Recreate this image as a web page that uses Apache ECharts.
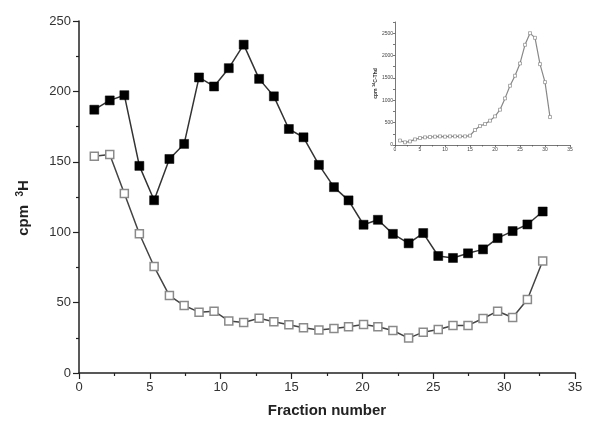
<!DOCTYPE html>
<html>
<head>
<meta charset="utf-8">
<script src="https://cdn.jsdelivr.net/npm/echarts@6/dist/echarts.min.js"></script>
<style>html,body{margin:0;padding:0;background:#fff}#c{width:609px;height:423px}</style>
</head>
<body>
<div id="c"></div>
<script>
// Main chart: fraction positions
const fractionX = [1.08,2.17,3.20,4.26,5.30,6.38,7.42,8.47,9.53,10.57,11.62,12.71,13.75,14.81,15.84,16.93,17.99,19.02,20.08,21.09,22.15,23.26,24.29,25.35,26.39,27.45,28.51,29.54,30.60,31.64,32.72];
const filledH3 = [187,193.6,197.3,147.1,122.7,152,162.7,209.9,203.5,216.5,233.2,208.9,196.5,173.3,167.4,147.8,132,122.6,105.3,108.8,98.8,92.1,99.4,83.1,81.7,85,87.8,95.8,100.8,105.5,114.7];
const openH3 = [153.9,155.2,127.5,98.9,75.6,55.0,47.9,43.2,43.9,37.0,35.9,38.9,36.4,34.2,32.1,30.5,31.6,32.8,34.5,32.8,30.2,24.8,29.0,30.9,33.8,33.8,38.7,43.9,39.4,52.2,79.5];
// Inset: 14C-Thd
const insetX = [1,2,3,4,5,6,7,8,9,10,11,12,13,14,15,16,17,18,19,20,21,22,23,24,25,26,27,28,29,30,31];
const insetC14 = [100,60,80,126,156,171,179,186,193,186,193,193,193,193,208,335,424,469,543,640,789,1042,1324,1548,1823,2240,2500,2396,1808,1406,625];
const mainYTicks = [0,50,100,150,200,250];
const mainXTicks = [0,5,10,15,20,25,30,35];

const pair = (xs, ys) => xs.map((x, i) => [x, ys[i]]);
const font = 'Liberation Sans, Arial, sans-serif';
const chart = echarts.init(document.getElementById('c'), null, {renderer: 'canvas'});
chart.setOption({
  animation: false,
  backgroundColor: '#fff',
  grid: [
    {left: 79, right: 34, top: 21, bottom: 49},
    {left: 395, right: 39, top: 22, bottom: 278}
  ],
  xAxis: [
    {
      gridIndex: 0, type: 'value', min: mainXTicks[0], max: mainXTicks[mainXTicks.length - 1], interval: 5,
      name: 'Fraction number', nameLocation: 'middle', nameGap: 30,
      nameTextStyle: {fontFamily: font, fontSize: 15, fontWeight: 'bold', color: '#222'},
      axisLine: {onZero: false, lineStyle: {color: '#222', width: 1.5}},
      axisTick: {length: 6, lineStyle: {color: '#222', width: 1.2}},
      minorTick: {show: true, splitNumber: 2, length: 3, lineStyle: {color: '#222', width: 1.2}},
      axisLabel: {fontFamily: font, fontSize: 13, color: '#333', margin: 8},
      splitLine: {show: false}
    },
    {
      gridIndex: 1, type: 'value', min: 0, max: 35, interval: 5,
      axisLine: {onZero: false, lineStyle: {color: '#555', width: 0.8}},
      axisTick: {length: 2, lineStyle: {color: '#555', width: 0.8}},
      minorTick: {show: true, splitNumber: 2, length: 1.5, lineStyle: {color: '#555', width: 0.8}},
      axisLabel: {fontFamily: font, fontSize: 5, color: '#444', margin: 2},
      splitLine: {show: false}
    }
  ],
  yAxis: [
    {
      gridIndex: 0, type: 'value', min: mainYTicks[0], max: mainYTicks[mainYTicks.length - 1], interval: 50,
      name: 'cpm  {sup|3}H', nameLocation: 'middle', nameGap: 46,
      nameTextStyle: {fontFamily: font, fontSize: 15, fontWeight: 'bold', color: '#222', padding: [0, 22, 0, 0],
        rich: {sup: {fontFamily: font, fontSize: 10, fontWeight: 'bold', color: '#222', verticalAlign: 'top', padding: [0, 0, 8, 0]}}},
      axisLine: {onZero: false, lineStyle: {color: '#222', width: 1.5}},
      axisTick: {length: 6, lineStyle: {color: '#222', width: 1.2}},
      minorTick: {show: true, splitNumber: 2, length: 3, lineStyle: {color: '#222', width: 1.2}},
      axisLabel: {fontFamily: font, fontSize: 13, color: '#333', margin: 8},
      splitLine: {show: false}
    },
    {
      gridIndex: 1, type: 'value', min: 0, max: 2750, interval: 250,
      name: 'cpm {sup|14}C-Thd', nameLocation: 'middle', nameGap: 16,
      nameTextStyle: {fontFamily: font, fontSize: 5, fontWeight: 'bold', color: '#333',
        rich: {sup: {fontFamily: font, fontSize: 4, fontWeight: 'bold', color: '#333', padding: [0, 0, 3, 0]}}},
      axisLine: {onZero: false, lineStyle: {color: '#555', width: 0.8}},
      axisTick: {length: 2, lineStyle: {color: '#555', width: 0.8}},
      axisLabel: {fontFamily: font, fontSize: 5, color: '#444', margin: 2,
        formatter: v => (v % 500 === 0 ? String(v) : '')},
      splitLine: {show: false}
    }
  ],
  series: [
    {
      type: 'line', xAxisIndex: 0, yAxisIndex: 0, data: pair(fractionX, openH3),
      symbol: 'rect', symbolSize: 8, z: 2,
      lineStyle: {color: '#444', width: 1.5},
      itemStyle: {color: '#fff', borderColor: '#8a8a8a', borderWidth: 1.5}
    },
    {
      type: 'line', xAxisIndex: 0, yAxisIndex: 0, data: pair(fractionX, filledH3),
      symbol: 'rect', symbolSize: 9, z: 3,
      lineStyle: {color: '#333', width: 1.5},
      itemStyle: {color: '#000', borderColor: '#000', borderWidth: 0.5}
    },
    {
      type: 'line', xAxisIndex: 1, yAxisIndex: 1, data: pair(insetX, insetC14),
      symbol: 'rect', symbolSize: 3, z: 2,
      lineStyle: {color: '#888', width: 1.2},
      itemStyle: {color: '#fff', borderColor: '#777', borderWidth: 0.6}
    }
  ]
});
</script>
</body>
</html>
